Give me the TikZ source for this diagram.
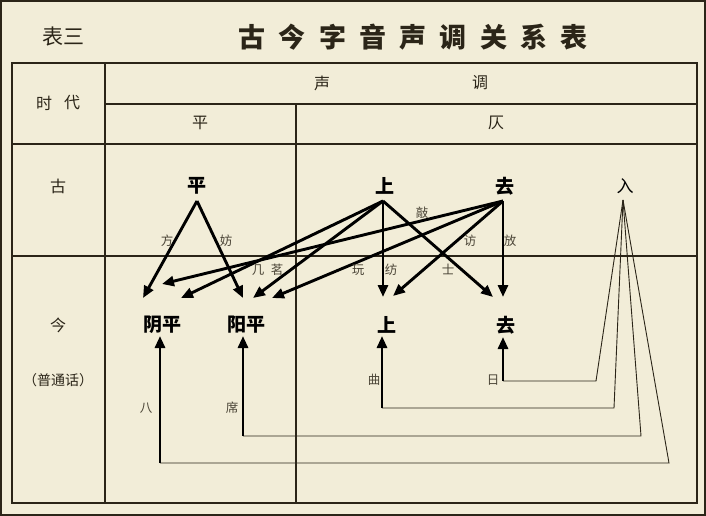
\documentclass[tikz,border=0pt]{standalone}
\usepackage{fontspec}
\newfontfamily\cjk{Noto Sans CJK SC}
\usetikzlibrary{arrows.meta}
\definecolor{bg}{HTML}{F2EDD8}
\definecolor{ink}{HTML}{2B2518}
\definecolor{soft}{HTML}{4A4436}
\begin{document}
\begin{tikzpicture}[x=1pt,y=-1pt,
  grid/.style={draw=ink, line width=1.3pt},
  title/.style={font=\cjk\bfseries\fontsize{27}{27}\selectfont, text=ink, inner sep=0},
  big/.style={font=\cjk\bfseries\fontsize{19}{19}\selectfont, text=black, inner sep=0},
  hd/.style={font=\cjk\fontsize{16}{16}\selectfont, text=ink, inner sep=0},
  lab/.style={font=\cjk\fontsize{12.5}{12.5}\selectfont, text=soft, inner sep=0},
  arr/.style={draw=black, line width=2.9pt, -{Triangle[length=12pt,width=10pt]}},
  thin/.style={draw=ink, line width=0.9pt, line join=miter},
]
% background and frame
\fill[bg] (0,0) rectangle (706,516);
\draw[ink, line width=1.2pt] (1,1) rectangle (705,515);
\useasboundingbox (0,0) rectangle (706,516);

% title
\node[font=\cjk\fontsize{21}{21}\selectfont, text=ink, inner sep=0] (biao) at (63,37) {表三};
\foreach \c [count=\i from 0] in {古,今,字,音,声,调,关,系,表}
  \node[title] (t\i) at (252+\i*40.25,37) {\c};

% table grid
\draw[grid] (12,63) rectangle (697,503);
\draw[grid] (105,104) -- (697,104);
\draw[grid] (12,144) -- (697,144);
\draw[grid] (12,256) -- (697,256);
\draw[grid] (105,63) -- (105,503);
\draw[grid] (296,104) -- (296,503);

% headers
\node[hd] (shi) at (44,103) {时};
\node[hd] (dai) at (72,103) {代};
\node[hd] (sheng) at (322,83) {声};
\node[hd] (diao) at (480,83) {调};
\node[hd] (hping) at (200,123) {平};
\node[hd] (hze) at (496,123) {仄};
\node[hd] (gu) at (58,186) {古};
\node[hd] (jin) at (58,325) {今};
\node[hd, font=\cjk\fontsize{14}{14}\selectfont] (pth) at (58,380) {（普通话）};

% ancient tones
\node[big] (gping) at (197,186) {平};
\node[big] (gshang) at (385,186) {上};
\node[big] (gqu) at (505,186) {去};
\node[big, font=\cjk\fontsize{17}{17}\selectfont] (gru) at (625,186) {入};
% modern tones
\node[big] (yinping) at (162,325) {阴平};
\node[big] (yangping) at (246,325) {阳平};
\node[big] (jshang) at (387,325) {上};
\node[big] (jqu) at (506,325) {去};

% apex / tip coordinates
\coordinate (pA) at (197,201);
\coordinate (sA) at (383,201);
\coordinate (qA) at (503,201);
\coordinate (rA) at (623,200);

% from ping
\draw[arr] (pA) -- (143,298);
\draw[arr] (pA) -- (243,298);
% from shang
\draw[arr] (sA) -- (181,298);
\draw[arr] (sA) -- (253,298);
\draw[arr] (sA) -- (383,297);
\draw[arr] (sA) -- (493,297);
% from qu
\draw[arr] (qA) -- (162,284);
\draw[arr] (qA) -- (272,298);
\draw[arr] (qA) -- (393,296);
\draw[arr] (qA) -- (503,297);

% from ru (thin lines)
\coordinate (r1) at (503,381);
\coordinate (r2) at (382,408);
\coordinate (r3) at (243,436);
\coordinate (r4) at (160,463);
\draw[thin] (rA) -- (596,381) -- (r1);
\draw[thin] (rA) -- (614,408) -- (r2);
\draw[thin] (rA) -- (641,436) -- (r3);
\draw[thin] (rA) -- (669,463) -- (r4);
\draw[arr] (r1) -- (503,337);
\draw[arr] (r2) -- (382,336);
\draw[arr] (r3) -- (243,336);
\draw[arr] (r4) -- (160,336);

% example characters
\node[lab] (l1) at (167,241) {方};
\node[lab] (l2) at (226,241) {妨};
\node[lab] (l3) at (258,270) {几};
\node[lab] (l4) at (277,270) {茗};
\node[lab] (l5) at (358,270) {玩};
\node[lab] (l6) at (391,270) {纺};
\node[lab] (l7) at (422,213) {敲};
\node[lab] (l8) at (470,241) {访};
\node[lab] (l9) at (448,269) {士};
\node[lab] (l10) at (510,241) {放};
\node[lab] (l11) at (146,408) {八};
\node[lab] (l12) at (232,408) {席};
\node[lab] (l13) at (374,380) {曲};
\node[lab] (l14) at (493,380) {日};
\end{tikzpicture}
\end{document}
